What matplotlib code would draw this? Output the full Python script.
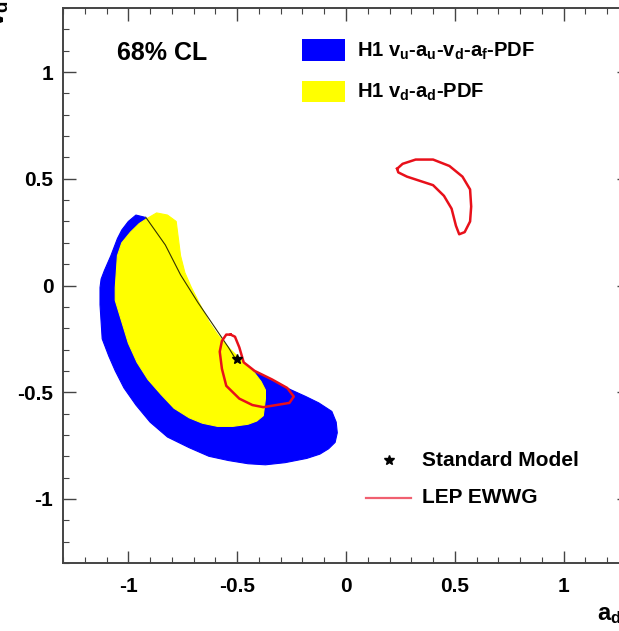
import matplotlib
matplotlib.use("Agg")
import matplotlib.pyplot as plt
from matplotlib.patches import Polygon, Rectangle
from matplotlib.ticker import MultipleLocator

plt.rcParams['font.family'] = ['Liberation Sans', 'DejaVu Sans']
plt.rcParams['font.weight'] = 'bold'
plt.rcParams['mathtext.fontset'] = 'custom'
plt.rcParams['mathtext.rm'] = 'Liberation Sans:bold'
plt.rcParams['mathtext.it'] = 'Liberation Sans:bold'
plt.rcParams['mathtext.bf'] = 'Liberation Sans:bold'

# H1 v_u-a_u-v_d-a_f-PDF 68% CL contour (a_d, v_d)
blue_a = [-1.00, -1.03, -1.05, -1.08, -1.11, -1.125, -1.13, -1.13, -1.125, -1.12, -1.09,
          -1.06, -1.02, -0.965, -0.90, -0.82, -0.72, -0.63, -0.54, -0.45, -0.37, -0.28,
          -0.18, -0.12, -0.08, -0.05, -0.04, -0.045, -0.065, -0.125, -0.185, -0.25,
          -0.31, -0.37, -0.43, -0.52, -0.62, -0.72, -0.82, -0.90, -0.925, -0.965]
blue_v = [0.30, 0.26, 0.22, 0.14, 0.07, 0.03, -0.01, -0.09, -0.17, -0.25, -0.33,
          -0.40, -0.48, -0.56, -0.64, -0.71, -0.76, -0.80, -0.82, -0.835, -0.84, -0.83,
          -0.81, -0.79, -0.765, -0.735, -0.69, -0.64, -0.59, -0.55, -0.52, -0.49,
          -0.46, -0.43, -0.40, -0.36, -0.25, -0.05, 0.15, 0.28, 0.32, 0.33]

# H1 v_d-a_d-PDF 68% CL contour
yellow_a = [-0.78, -0.77, -0.76, -0.74, -0.71, -0.67, -0.63, -0.59, -0.55, -0.50, -0.46,
            -0.42, -0.39, -0.37, -0.37, -0.38, -0.41, -0.45, -0.52, -0.59, -0.66, -0.72,
            -0.79, -0.85, -0.91, -0.96, -1.00, -1.03, -1.06, -1.06, -1.05, -1.03, -0.99,
            -0.95, -0.92, -0.87, -0.82]
yellow_v = [0.30, 0.22, 0.14, 0.06, -0.01, -0.09, -0.17, -0.23, -0.28, -0.33, -0.37,
            -0.41, -0.45, -0.49, -0.53, -0.61, -0.635, -0.65, -0.66, -0.66, -0.645, -0.62,
            -0.575, -0.51, -0.44, -0.36, -0.27, -0.17, -0.07, -0.01, 0.14, 0.20, 0.25,
            0.29, 0.31, 0.34, 0.33]

# LEP EWWG contours
lep1_a = [-0.53, -0.51, -0.49, -0.47, -0.42, -0.34, -0.27, -0.24, -0.26, -0.32, -0.38,
          -0.43, -0.49, -0.55, -0.57, -0.58, -0.57, -0.55]
lep1_v = [-0.23, -0.24, -0.29, -0.36, -0.40, -0.44, -0.48, -0.52, -0.55, -0.56, -0.57,
          -0.56, -0.53, -0.47, -0.39, -0.31, -0.26, -0.23]
lep2_a = [0.235, 0.26, 0.32, 0.40, 0.475, 0.535, 0.57, 0.575, 0.57, 0.545, 0.52, 0.505,
          0.485, 0.45, 0.40, 0.34, 0.28, 0.24]
lep2_v = [0.547, 0.57, 0.59, 0.59, 0.56, 0.51, 0.45, 0.37, 0.30, 0.25, 0.24, 0.28,
          0.36, 0.42, 0.47, 0.49, 0.51, 0.53]

# Standard Model line and point
sm_line_a = [-0.92, -0.83, -0.76, -0.68, -0.60, -0.54, -0.51]
sm_line_v = [0.32, 0.19, 0.05, -0.08, -0.20, -0.29, -0.34]
sm_a, sm_v = -0.5, -0.346

W, H = 619, 631
fig = plt.figure(figsize=(W / 100, H / 100), dpi=100)
ax = fig.add_axes([63 / W, 68 / H, 566 / W, 555 / H])

blue = '#0000ff'
yellow = '#ffff00'
red = '#e8101a'

ax.add_patch(Polygon(list(zip(blue_a, blue_v)), closed=True, fc=blue, ec=blue, lw=0.8,
                     joinstyle='round'))
ax.add_patch(Polygon(list(zip(yellow_a, yellow_v)), closed=True, fc=yellow, ec=yellow,
                     lw=0.8, joinstyle='round'))
ax.plot(sm_line_a, sm_line_v, color='#333300', lw=0.8)
ax.plot(lep1_a + lep1_a[:1], lep1_v + lep1_v[:1], color=red, lw=1.8,
        solid_joinstyle='round')
ax.plot(lep2_a + lep2_a[:1], lep2_v + lep2_v[:1], color=red, lw=1.8,
        solid_joinstyle='round')
ax.plot([sm_a], [sm_v], marker='*', color='black', ms=7, ls='none')

ax.set_xlim(-1.3, 1.3)
ax.set_ylim(-1.3, 1.3)
ax.xaxis.set_major_locator(MultipleLocator(0.5))
ax.xaxis.set_minor_locator(MultipleLocator(0.1))
ax.yaxis.set_major_locator(MultipleLocator(0.5))
ax.yaxis.set_minor_locator(MultipleLocator(0.1))
ax.tick_params(which='both', direction='in', top=True, right=True, color='#444444',
               labelsize=15)
ax.tick_params(which='major', length=9, width=1)
ax.tick_params(which='minor', length=4.5, width=0.8)
ax.tick_params(axis='x', pad=10)
ax.tick_params(axis='y', pad=7)
ax.xaxis.set_major_formatter(plt.FuncFormatter(lambda v, p: f'{v:g}'))
ax.yaxis.set_major_formatter(plt.FuncFormatter(lambda v, p: f'{v:g}'))
for s in ax.spines.values():
    s.set_linewidth(1.4)
    s.set_color('#444444')

# text and legend
ax.text(-1.053, 1.089, '68% CL', fontsize=18, ha='left', va='center')
ax.add_patch(Rectangle((-0.203, 1.051), 0.198, 0.103, fc=blue, ec='none'))
ax.add_patch(Rectangle((-0.203, 0.860), 0.198, 0.098, fc=yellow, ec='none'))
ax.text(0.051, 1.098, r'H1 v$_u$-a$_u$-v$_d$-a$_f$-PDF', fontsize=14.5, ha='left',
        va='center')
ax.text(0.051, 0.907, r'H1 v$_d$-a$_d$-PDF', fontsize=14.5, ha='left', va='center')
ax.plot([0.199], [-0.818], marker='*', color='black', ms=7, ls='none')
ax.text(0.351, -0.818, 'Standard Model', fontsize=15, ha='left', va='center')
ax.plot([0.092, 0.30], [-0.995, -0.995], color='#f06070', lw=1.6)
ax.text(0.351, -0.995, 'LEP EWWG', fontsize=15, ha='left', va='center')

fig.text(597 / W, 11 / H, 'a$_d$', fontsize=17, ha='left', va='baseline')
fig.text(11 / W, 1.0, 'v$_d$', fontsize=19, rotation=90, ha='right', va='top')

fig.savefig('out.png', dpi=100)
